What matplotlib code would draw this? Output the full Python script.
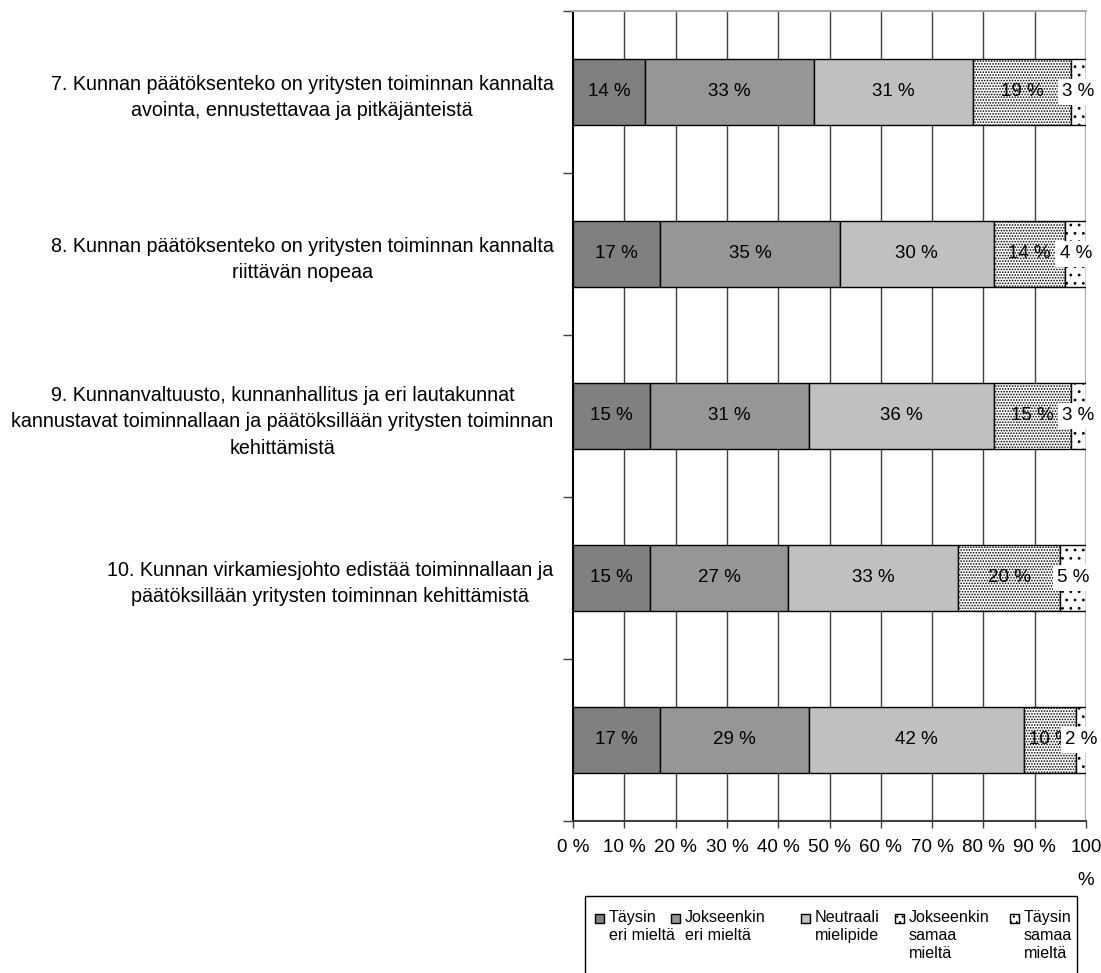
import matplotlib
matplotlib.use("Agg")
import matplotlib.pyplot as plt
from matplotlib.patches import Rectangle
import numpy as np

plt.rcParams['font.family'] = ['Liberation Sans', 'DejaVu Sans']
plt.rcParams['hatch.linewidth'] = 0.8

categories = [
    "7. Kunnan päätöksenteko on yritysten toiminnan kannalta\navointa, ennustettavaa ja pitkäjänteistä",
    "8. Kunnan päätöksenteko on yritysten toiminnan kannalta\nriittävän nopeaa",
    "9. Kunnanvaltuusto, kunnanhallitus ja eri lautakunnat\nkannustavat toiminnallaan ja päätöksillään yritysten toiminnan\nkehittämistä",
    "10. Kunnan virkamiesjohto edistää toiminnallaan ja\npäätöksillään yritysten toiminnan kehittämistä",
    "",
]
series_names = ["Täysin\neri mieltä", "Jokseenkin\neri mieltä", "Neutraali\nmielipide",
                "Jokseenkin\nsamaa\nmieltä", "Täysin\nsamaa\nmieltä"]
taysin_eri = [14, 17, 15, 15, 17]
jokseenkin_eri = [33, 35, 31, 27, 29]
neutraali = [31, 30, 36, 33, 42]
jokseenkin_samaa = [19, 14, 15, 20, 10]
taysin_samaa = [3, 4, 3, 5, 2]
series = [taysin_eri, jokseenkin_eri, neutraali, jokseenkin_samaa, taysin_samaa]
xtick_labels = ["0 %", "10 %", "20 %", "30 %", "40 %", "50 %", "60 %", "70 %", "80 %", "90 %", "100\n%"]

colors = ["#808080", "#969696", "#c0c0c0", "#ffffff", "#ffffff"]
hatches = [None, None, None, "......", ".."]

W, H = 1101, 973
fig = plt.figure(figsize=(W/100, H/100), dpi=100)
ax = fig.add_axes([573/W, 1-821/H, (1086-573)/W, (821-11)/H])

y = np.arange(len(categories))
left = np.zeros(len(categories))
for i, vals in enumerate(series):
    vals = np.array(vals, dtype=float)
    ax.barh(y, vals, left=left, height=0.41, color=colors[i], edgecolor="black",
            linewidth=1.0, hatch=hatches[i], zorder=3)
    for j, v in enumerate(vals):
        cx = left[j] + v / 2
        if i == 4:
            ax.text(cx, y[j], f"{int(v)} %", ha="center", va="center", fontsize=13.5,
                    zorder=6, bbox=dict(facecolor="white", edgecolor="none", pad=3))
        else:
            ax.text(cx, y[j], f"{int(v)} %", ha="center", va="center", fontsize=13.5,
                    zorder=5)
    left += vals

ax.set_xlim(0, 100)
ax.set_ylim(len(categories) - 0.5, -0.5)
ax.set_xticks(np.arange(0, 101, 10))
ax.set_xticklabels(xtick_labels, fontsize=13.5, linespacing=2.2)
ax.set_yticks(y)
ax.set_yticklabels(categories, fontsize=14.2, ha="right", multialignment="center",
                   linespacing=1.5)
ax.tick_params(axis="y", which="major", length=0, pad=14)
ax.set_yticks(np.arange(-0.5, len(categories)), minor=True)
ax.tick_params(axis="y", which="minor", length=7, width=1, color="#404040")
ax.tick_params(axis="x", length=5, width=1, color="#404040", pad=8)

for xv in range(10, 100, 10):
    ax.axvline(xv, color="#404040", linewidth=1.0, zorder=1)
ax.axvline(100, color="#aaaaaa", linewidth=1.5, zorder=1)

ax.spines["left"].set_color("black")
ax.spines["left"].set_linewidth(1.5)
ax.spines["bottom"].set_color("#404040")
ax.spines["bottom"].set_linewidth(1.5)
ax.spines["top"].set_color("#aaaaaa")
ax.spines["top"].set_linewidth(1.5)
ax.spines["right"].set_visible(False)

# Legend drawn manually in pixel-based figure coordinates
def fx(px):
    return px / W

def fy(py):
    return 1 - py / H

fig.patches.append(Rectangle((fx(585), fy(990)), fx(1077) - fx(585), fy(896) - fy(990),
                             transform=fig.transFigure, facecolor="white",
                             edgecolor="black", linewidth=1.0))
square_x = [595, 671, 801, 895, 1010]
for i, name in enumerate(series_names):
    fig.patches.append(Rectangle((fx(square_x[i]), fy(923)), fx(9), 9 / H,
                                 transform=fig.transFigure, facecolor=colors[i],
                                 edgecolor="black", linewidth=1.0, hatch=hatches[i] and "..."))
    fig.text(fx(square_x[i] + 14), fy(910), name, ha="left", va="top", fontsize=11.6,
             linespacing=1.25)

fig.savefig("out.png", dpi=100)
